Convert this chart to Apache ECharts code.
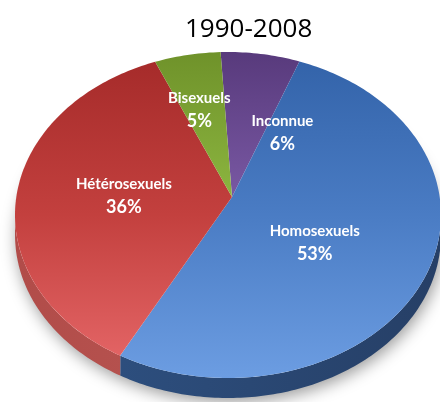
<!DOCTYPE html>
<html>
<head>
<meta charset="utf-8">
<script src="https://cdn.jsdelivr.net/npm/echarts@6/dist/echarts.min.js"></script>
<style>
  html, body { margin: 0; padding: 0; background: #fff; }
  #main { width: 440px; height: 402px; }
</style>
</head>
<body>
<div id="main"></div>
<script>
// data, clockwise from the top
const categories = ['Inconnue', 'Homosexuels', 'Hétérosexuels', 'Bisexuels'];
const values = [6, 53, 36, 5];
const titleText = '1990-2008';

// look
const topColors = [
  ['#583a7c', '#7d5ca8', '#a384cf'],
  ['#3262a8', '#4a7cc4', '#6c9de2'],
  ['#a42a29', '#c3403e', '#e7696a'],
  ['#6f922a', '#8fb942', '#aedb6a']
];
const sideColors = [['#6a4a90', '#5a3e7c'], ['#2f5385', '#263f66'], ['#b14c49', '#c0605c'], ['#7ea036', '#6e8c2e']];
const labelShift = [[37, 2], [-8, 3], [0, -3], [-5, 0]];
const labelRatio = [0.47, 0.48, 0.5, 0.62];

window.onload = function () {
  mychart();
}

function mychart() {
  var chart = echarts.init(document.getElementById('main'));
  var total = values.reduce((a, b) => a + b, 0);
  var cx = 228, cy = 215, rx = 213, ry = 163;   // ellipse of the top face
  var ax = 232, ay = 197;                         // apex where slices meet
  var depth = 20;
  var startAngle = -92;

  function pt(deg, dy) {
    var r = deg * Math.PI / 180;
    return [cx + rx * Math.cos(r), cy + ry * Math.sin(r) + (dy || 0)];
  }
  function arc(a0, a1, dy) {
    var pts = [];
    var n = Math.max(2, Math.ceil(Math.abs(a1 - a0)));
    for (var i = 0; i <= n; i++) pts.push(pt(a0 + (a1 - a0) * i / n, dy));
    return pts;
  }

  function renderItem(params, api) {
    var idx = params.dataIndex;
    var before = 0;
    for (var k = 0; k < idx; k++) before += values[k];
    var v = api.value(0);
    var a0 = startAngle + before / total * 360;
    var a1 = a0 + v / total * 360;
    var tc = topColors[idx];
    var children = [];

    if (idx === 0) {
      // soft shadow under the whole pie
      children.push({
        type: 'polygon',
        shape: { points: arc(0, 360, depth - 2) },
        style: { fill: '#fff', shadowBlur: 16, shadowColor: 'rgba(0,0,0,0.4)', shadowOffsetY: 6, shadowOffsetX: 2 },
        z2: 0
      });
    }

    // side face, only the front half is visible
    [[Math.max(a0, 0), Math.min(a1, 180)], [Math.max(a0, 360), Math.min(a1, 540)]].forEach(function (s) {
      if (s[1] > s[0]) {
        var upper = arc(s[0], s[1], 0);
        var lower = arc(s[0], s[1], depth).reverse();
        children.push({
          type: 'polygon',
          shape: { points: upper.concat(lower) },
          style: {
            fill: new echarts.graphic.LinearGradient(cx - rx, 0, cx + rx, 0, [
              { offset: 0, color: sideColors[idx][0] },
              { offset: 1, color: sideColors[idx][1] }
            ], true)
          },
          z2: 5
        });
      }
    });

    // top face
    children.push({
      type: 'polygon',
      shape: { points: [[ax, ay]].concat(arc(a0, a1, 0)) },
      style: {
        fill: new echarts.graphic.LinearGradient(0, cy - ry, 0, cy + ry, [
          { offset: 0, color: tc[0] },
          { offset: 0.5, color: tc[1] },
          { offset: 1, color: tc[2] }
        ], true)
      },
      z2: 10
    });

    // label
    var mid = (a0 + a1) / 2;
    var e = pt(mid, 0);
    var f = labelRatio[idx];
    var lx = ax + (e[0] - ax) * f + labelShift[idx][0];
    var ly = ay + (e[1] - ay) * f + labelShift[idx][1];
    children.push({
      type: 'text',
      style: {
        text: categories[idx], x: lx, y: ly - 11, fill: '#fff',
        font: 'bold 15px Lato, "Open Sans", sans-serif', align: 'center', verticalAlign: 'middle'
      },
      z2: 20
    });
    children.push({
      type: 'text',
      style: {
        text: Math.round(v / total * 100) + '%', x: lx, y: ly + 12, fill: '#fff',
        font: 'bold 18px Lato, "Open Sans", sans-serif', align: 'center', verticalAlign: 'middle'
      },
      z2: 20
    });

    return { type: 'group', children: children };
  }

  var option = {
    backgroundColor: '#fff',
    title: {
      text: titleText,
      left: 180,
      top: 12,
      textStyle: { fontFamily: '"Open Sans", sans-serif', fontSize: 26, fontWeight: 'normal', color: '#000' }
    },
    series: [{
      type: 'custom',
      coordinateSystem: 'none',
      data: values.map((v, i) => ({ name: categories[i], value: [v] })),
      renderItem: renderItem,
      animation: false
    }]
  };
  chart.setOption(option);
}
</script>
</body>
</html>
